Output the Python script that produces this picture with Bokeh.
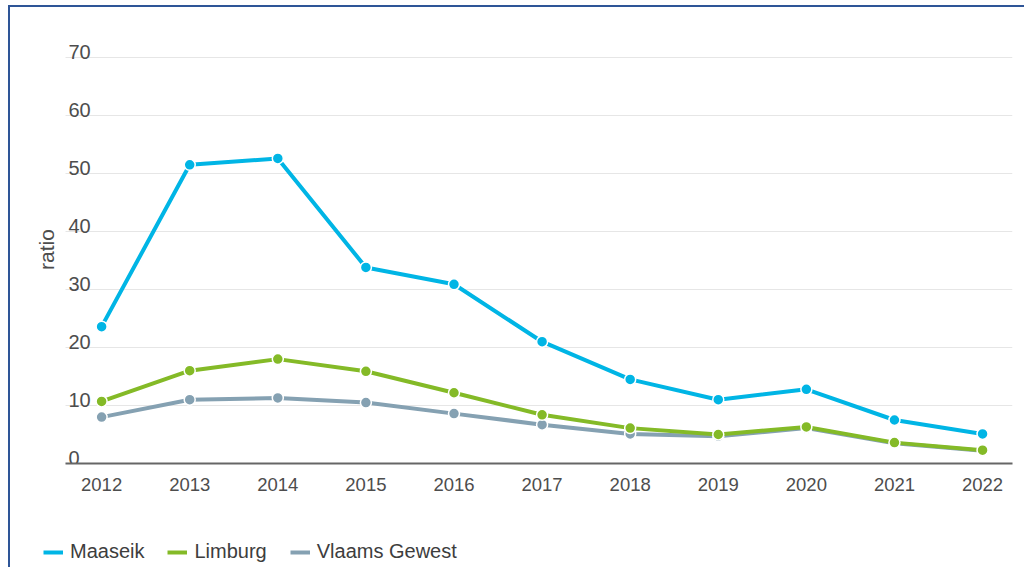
from bokeh.plotting import figure
from bokeh.layouts import column
from bokeh.models import Range1d, FixedTicker, Legend, LegendItem, CustomJSTickFormatter
from bokeh.core.properties import value
from bokeh.embed import file_html
from bokeh.resources import INLINE

# ---- data ----
years = [2012, 2013, 2014, 2015, 2016, 2017, 2018, 2019, 2020, 2021, 2022]
maaseik = [23.6, 51.5, 52.6, 33.8, 30.9, 21.0, 14.5, 11.0, 12.8, 7.5, 5.1]
limburg = [10.7, 16.0, 18.0, 15.9, 12.2, 8.4, 6.1, 5.0, 6.3, 3.6, 2.3]
vlaams_gewest = [8.0, 11.0, 11.3, 10.5, 8.6, 6.7, 5.1, 4.7, 6.1, 3.5, 2.2]
series_names = ["Maaseik", "Limburg", "Vlaams Gewest"]
series_colors = ["#00B5E5", "#84BA27", "#85A1B2"]
y_ticks = [0, 10, 20, 30, 40, 50, 60, 70]
y_tick_labels = ["0", "10", "20", "30", "40", "50", "60", "70"]
y_axis_title = "ratio"

FONT = "Liberation Sans"
TXT = "#4d4d4d"

# x extent of the plotted area (gridlines / axis line) and of the drawing frame
grid_left, x_end = 2011.59, 2022.34
x_start = 2011.2835

p = figure(width=1014, height=530,
           x_range=Range1d(x_start, x_end), y_range=Range1d(0, 73.8),
           output_backend="svg", toolbar_location=None,
           min_border_left=28, min_border_right=12,
           min_border_top=28, min_border_bottom=74)
p.outline_line_color = None
p.background_fill_color = "white"
p.border_fill_color = "white"

# horizontal gridlines spanning only the plotted area
p.grid.visible = False
p.segment(x0=[grid_left] * len(y_ticks), x1=[x_end] * len(y_ticks),
          y0=y_ticks, y1=y_ticks, line_color="#e6e6e6", line_width=1)

# y axis (title only; tick labels drawn inside plot)
p.yaxis.ticker = FixedTicker(ticks=y_ticks)
p.yaxis.formatter = CustomJSTickFormatter(code="return ''")
p.yaxis.axis_line_color = None
p.yaxis.major_tick_line_color = None
p.yaxis.minor_tick_line_color = None
p.yaxis.major_label_standoff = 0
p.yaxis.axis_label = y_axis_title
p.yaxis.axis_label_standoff = -25
p.yaxis.axis_label_text_font = FONT
p.yaxis.axis_label_text_font_style = "normal"
p.yaxis.axis_label_text_font_size = "21px"
p.yaxis.axis_label_text_color = TXT

# x axis
p.xaxis.ticker = FixedTicker(ticks=years)
p.xaxis.bounds = (grid_left, x_end)
p.xaxis.major_tick_line_color = None
p.xaxis.minor_tick_line_color = None
p.xaxis.axis_line_color = "#666666"
p.xaxis.axis_line_width = 2
p.xaxis.major_label_standoff = 8
p.xaxis.major_label_text_font = FONT
p.xaxis.major_label_text_font_size = "18.5px"
p.xaxis.major_label_text_color = TXT

# y tick labels placed above gridlines, inside the plot
p.text(x=[grid_left] * len(y_ticks), y=y_ticks, text=y_tick_labels,
       x_offset=3, y_offset=-6, text_baseline="alphabetic", text_align="left",
       text_font=value(FONT), text_font_size="20px", text_color=TXT)

# series (drawn so that Limburg sits above Vlaams Gewest)
data = {"Maaseik": maaseik, "Limburg": limburg, "Vlaams Gewest": vlaams_gewest}
colors = dict(zip(series_names, series_colors))
for name in ["Vlaams Gewest", "Limburg", "Maaseik"]:
    ys = data[name]
    c = colors[name]
    p.line(years, ys, line_width=4, line_color=c, line_join="round")
    p.scatter(years, ys, size=11, fill_color=c, line_color="white", line_width=1.5)

# legend strip below the chart (its lines lie outside its own ranges)
lg = figure(width=1014, height=30, x_range=Range1d(0, 1), y_range=Range1d(0, 1),
            output_backend="svg", toolbar_location=None,
            x_axis_location=None, y_axis_location=None,
            min_border_left=0, min_border_right=0, min_border_top=0, min_border_bottom=0)
lg.grid.visible = False
lg.outline_line_color = None
lg.background_fill_color = "white"
lg.border_fill_color = "white"
items = []
for name in series_names:
    r = lg.line(years, data[name], line_width=4, line_color=colors[name])
    items.append(LegendItem(label=name, renderers=[r]))
legend = Legend(items=items, location=(5, 4), orientation="horizontal",
                glyph_width=20, glyph_height=20, label_height=20,
                label_standoff=7, spacing=23, padding=0, margin=0,
                border_line_alpha=0, background_fill_alpha=0,
                label_text_font=FONT, label_text_font_size="20px",
                label_text_color="#3d3d3d")
lg.add_layout(legend)

layout = column(p, lg, spacing=0)
layout.styles = {"margin-left": "8px", "margin-top": "5px",
                 "border-left": "2px solid #2E5597", "border-top": "2px solid #2E5597"}

open("out.html", "w").write(file_html(layout, INLINE))
